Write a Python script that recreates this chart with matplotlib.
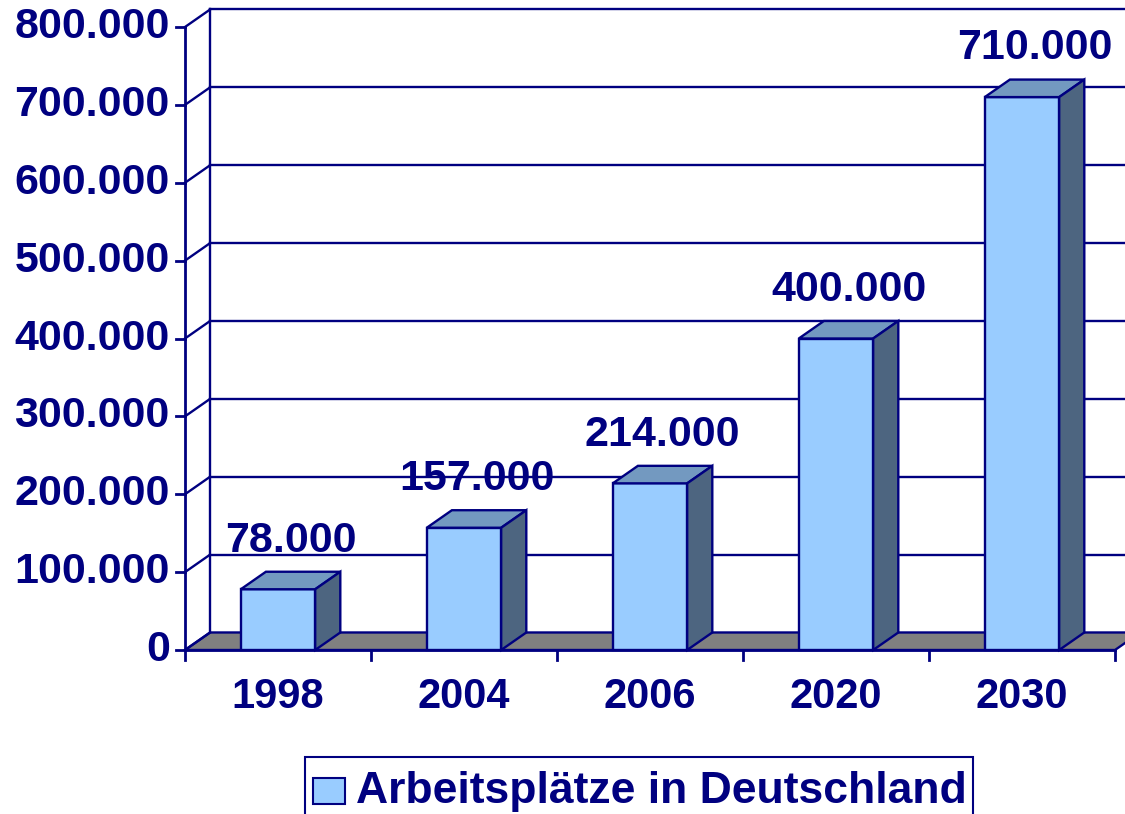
import matplotlib.pyplot as plt
from matplotlib.patches import Polygon, Rectangle

# data
years = ['1998', '2004', '2006', '2020', '2030']
jobs = [78000, 157000, 214000, 400000, 710000]
labels = ['78.000', '157.000', '214.000', '400.000', '710.000']
yticks = [0, 100000, 200000, 300000, 400000, 500000, 600000, 700000, 800000]
ytick_labels = ['0', '100.000', '200.000', '300.000', '400.000', '500.000', '600.000', '700.000', '800.000']
series_name = 'Arbeitsplätze in Deutschland'

navy = '#000080'
front_c = '#99CCFF'
top_c = '#7399C0'
side_c = '#4D6580'
font = 'Liberation Sans'

fig = plt.figure(figsize=(11.25, 8.14), dpi=100)
ax = fig.add_axes([185 / 1125, 164 / 814, 930 / 1125, 623 / 814])
ax.set_xlim(-0.5, 4.5)
ax.set_ylim(0, 800000)
ax.axis('off')

# 3d depth offset (data units)
dx = 0.135
dy = 22500
bw = 0.4
lw = 1.7

# floor
floor = Polygon([(-0.5, 0), (4.5, 0), (4.5 + dx, dy), (-0.5 + dx, dy)], closed=True,
                facecolor='#808080', edgecolor=navy, lw=lw, clip_on=False, zorder=1)
ax.add_patch(floor)

# walls + gridlines
for v in yticks:
    ax.plot([-0.5, -0.5 + dx], [v, v + dy], color=navy, lw=lw, clip_on=False, zorder=2)
    if v > 0:
        ax.plot([-0.5 + dx, 4.5 + dx + 0.2], [v + dy, v + dy], color=navy, lw=lw, clip_on=False, zorder=2)
ax.plot([-0.5 + dx, -0.5 + dx], [dy, 800000 + dy], color=navy, lw=lw, clip_on=False, zorder=2)

# y axis
ax.plot([-0.5, -0.5], [0, 800000], color=navy, lw=2, clip_on=False, zorder=3)
for v, lab in zip(yticks, ytick_labels):
    ax.plot([-0.5 - 0.05, -0.5], [v, v], color=navy, lw=2, clip_on=False, zorder=3)
    ax.annotate(lab, (-0.5, v), xytext=(-11, 0), textcoords='offset points',
                ha='right', va='center', fontsize=31, fontweight='bold',
                color=navy, family=font, annotation_clip=False)

# x axis
ax.plot([-0.5, 4.5], [0, 0], color=navy, lw=2, clip_on=False, zorder=3)
for i in range(len(years) + 1):
    ax.plot([i - 0.5, i - 0.5], [0, -12800], color=navy, lw=2, clip_on=False, zorder=3)
for i, yr in enumerate(years):
    ax.annotate(yr, (i, 0), xytext=(0, -34), textcoords='offset points',
                ha='center', va='center', fontsize=30, fontweight='bold',
                color=navy, family=font, annotation_clip=False)

# bars
for i, v in enumerate(jobs):
    x0, x1 = i - bw / 2, i + bw / 2
    front = Polygon([(x0, 0), (x1, 0), (x1, v), (x0, v)], closed=True,
                    facecolor=front_c, edgecolor=navy, lw=lw, clip_on=False, zorder=4)
    top = Polygon([(x0, v), (x1, v), (x1 + dx, v + dy), (x0 + dx, v + dy)], closed=True,
                  facecolor=top_c, edgecolor=navy, lw=lw, clip_on=False, zorder=4)
    side = Polygon([(x1, 0), (x1 + dx, dy), (x1 + dx, v + dy), (x1, v)], closed=True,
                   facecolor=side_c, edgecolor=navy, lw=lw, clip_on=False, zorder=4)
    for p in (front, top, side):
        ax.add_patch(p)
    ax.annotate(labels[i], (i + dx / 2, v), xytext=(0, 35), textcoords='offset points',
                ha='center', va='center', fontsize=31, fontweight='bold',
                color=navy, family=font, annotation_clip=False, zorder=5)

# legend (manual box like Excel)
fig.patches.append(Rectangle((305 / 1125, -0.01), 668 / 1125, (814 - 757) / 814 + 0.01,
                             transform=fig.transFigure, facecolor='white',
                             edgecolor=navy, lw=1.5))
fig.patches.append(Rectangle((313 / 1125, (814 - 804) / 814), 32 / 1125, 26 / 814,
                             transform=fig.transFigure, facecolor=front_c,
                             edgecolor=navy, lw=1.5))
fig.text(356 / 1125, (814 - 792) / 814, series_name, ha='left', va='center',
         fontsize=32, fontweight='bold', color=navy, family=font)

fig.savefig('out.png', dpi=100)
